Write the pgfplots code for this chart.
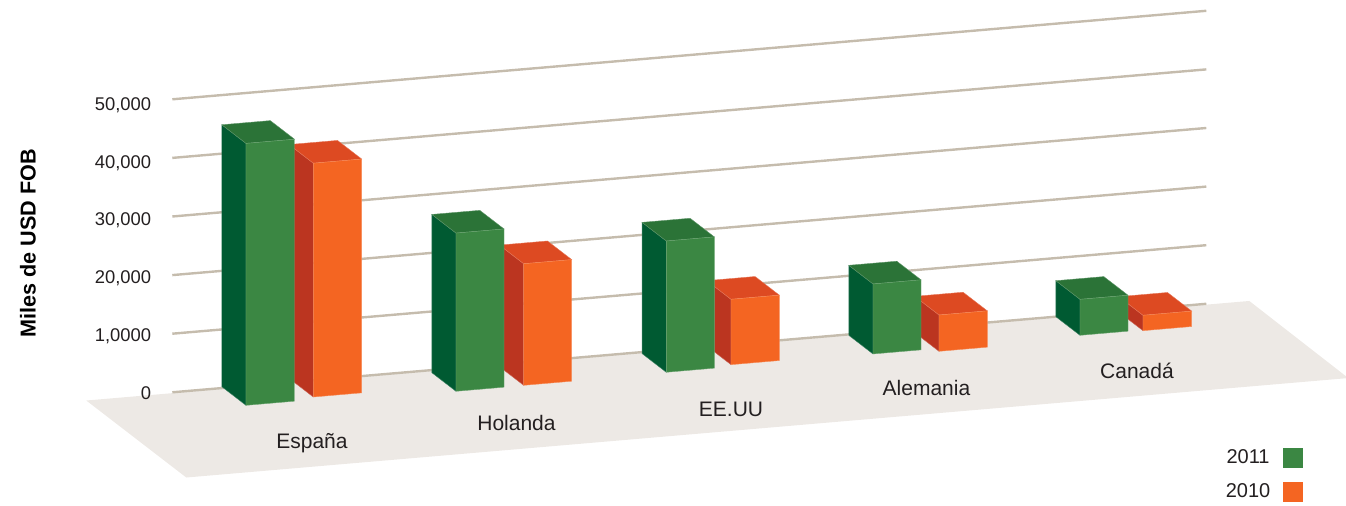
\documentclass[border=0pt]{standalone}
\usepackage{pgfplots}
\pgfplotsset{compat=1.18}
\usepackage{fontspec}
\setmainfont{Liberation Sans}
\definecolor{gf}{HTML}{3B8743}
\definecolor{gs}{HTML}{005A32}
\definecolor{gt}{HTML}{2B7337}
\definecolor{of}{HTML}{F46522}
\definecolor{os}{HTML}{BB3520}
\definecolor{ot}{HTML}{DD4A22}
\definecolor{floorc}{HTML}{EDE9E5}
\definecolor{gridc}{HTML}{C5BCAD}
\definecolor{txt}{HTML}{231F20}
% x0, x1, y front, y back, value (thousand USD), series colour prefix g/o
\newcommand{\cube}[6]{%
  \addplot3[draw=#6s!75!white,line width=0.2pt,fill=#6s,forget plot] coordinates {(#1,#3,0) (#1,#4,0) (#1,#4,#5) (#1,#3,#5)} --cycle;
  \addplot3[draw=#6t!75!white,line width=0.2pt,fill=#6t,forget plot] coordinates {(#1,#3,#5) (#1,#4,#5) (#2,#4,#5) (#2,#3,#5)} --cycle;
  \addplot3[draw=#6f!75!white,line width=0.2pt,fill=#6f,forget plot] coordinates {(#1,#3,0) (#2,#3,0) (#2,#3,#5) (#1,#3,#5)} --cycle;
}
\begin{document}
\begin{tikzpicture}
\begin{axis}[
  x={(0.5pt,0.0428pt)}, y={(-0.5pt,0.385pt)}, z={(0pt,2.93pt)},
  xmin=-87, xmax=1076, ymin=-101, ymax=0, zmin=0, zmax=50,
  hide axis, clip=false,
  legend plot pos=right,
  legend image code/.code={\fill[#1,draw=none] (0pt,-5pt) rectangle (10pt,5pt);},
  legend style={draw=none, fill=none, font=\fontsize{10pt}{10pt}\selectfont\color{txt},
    at={(0.9636,0.067)}, anchor=north east, row sep=4.5pt, column sep=4.5pt, inner sep=0pt, outer sep=0pt},
]
\coordinate (O) at (axis cs:0,0,0);
% floor
\addplot3[draw=none,fill=floorc,forget plot] coordinates {(-87,-1,0) (-87,-101,0) (1075,-101,0) (1076,-1,0)} --cycle;
% grid lines
\addplot3[gridc,line width=1.2pt,forget plot] coordinates {(0,0,0) (1034,0,0)};
\addplot3[gridc,line width=1.2pt,forget plot] coordinates {(0,0,10) (1034,0,10)};
\addplot3[gridc,line width=1.2pt,forget plot] coordinates {(0,0,20) (1034,0,20)};
\addplot3[gridc,line width=1.2pt,forget plot] coordinates {(0,0,30) (1034,0,30)};
\addplot3[gridc,line width=1.2pt,forget plot] coordinates {(0,0,40) (1034,0,40)};
\addplot3[gridc,line width=1.2pt,forget plot] coordinates {(0,0,50) (1034,0,50)};
% bars: 2010 (orange) behind, 2011 (green) in front
\cube{121.4}{169.8}{-19.6}{4.6}{39.9}{o}
\cube{51.1}{99.6}{-22.6}{1.6}{44.7}{g}
\cube{324.4}{372.4}{-27}{-2.8}{20.75}{o}
\cube{256.5}{304.5}{-27.2}{-3}{27.0}{g}
\cube{535.1}{583.4}{-23.6}{0.6}{11.16}{o}
\cube{468}{516}{-26}{-1.8}{22.4}{g}
\cube{737.9}{786.2}{-28.8}{-4.6}{6.2}{o}
\cube{675.4}{723.4}{-25.3}{-1.1}{11.95}{g}
\cube{945.6}{994.3}{-25.1}{-0.9}{2.63}{o}
\cube{883.5}{931.5}{-24.2}{0}{6.14}{g}
\addlegendimage{fill=gf}\addlegendentry{2011}
\addlegendimage{fill=of}\addlegendentry{2010}
\end{axis}
\pgfresetboundingbox
\begin{scope}[shift={([shift={(-86.15pt,196.15pt)}]O)},x=0.5pt,y=-0.5pt]
\path[use as bounding box] (0,0) rectangle (1346,505);
\begin{scope}[every node/.style={text=txt,inner sep=0pt,font=\fontsize{9.2pt}{10pt}\selectfont,anchor=base east}]
\node at (151.5,110.5) {50,000};
\node at (151.5,168.5) {40,000};
\node at (151.5,225.5) {30,000};
\node at (151.5,283.5) {20,000};
\node at (151.5,341.5) {1,0000};
\node at (151.5,399.5) {0};
\end{scope}
\begin{scope}[every node/.style={text=txt,inner sep=0pt,font=\fontsize{10.5pt}{11pt}\selectfont,anchor=base}]
\node at (312,448) {España};
\node at (516.5,430) {Holanda};
\node at (731,416) {EE.UU};
\node at (926.5,395.5) {Alemania};
\node at (1137,378.5) {Canadá};
\end{scope}
\node[text=black,inner sep=0pt,rotate=90,font=\fontsize{10.8pt}{11pt}\selectfont\bfseries] at (28,243.5) {Miles de USD FOB};
\end{scope}
\end{tikzpicture}
\end{document}
